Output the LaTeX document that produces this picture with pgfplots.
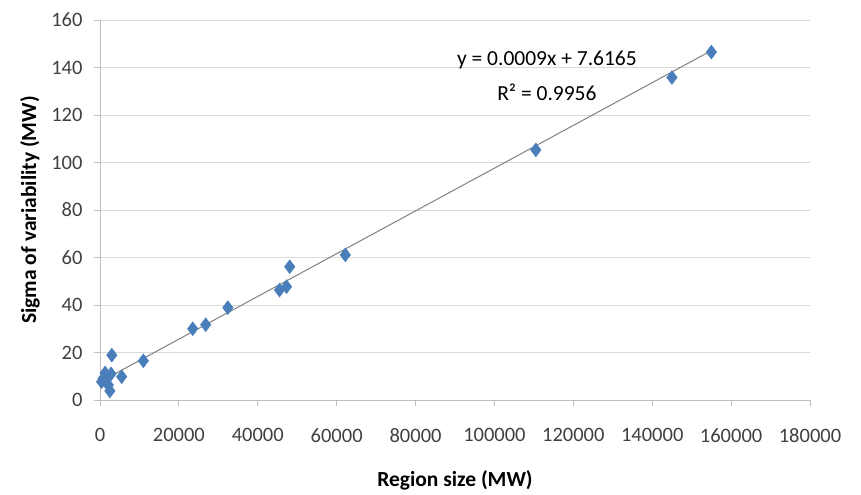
\documentclass[border=0pt]{standalone}
\usepackage{fontspec}
\setmainfont{Carlito}
\usepackage{pgfplots}
\pgfplotsset{compat=1.18}
\definecolor{mk}{HTML}{4A7EBB}
\definecolor{gridc}{HTML}{D9D9D9}
\definecolor{axc}{HTML}{BFBFBF}
\definecolor{txt}{HTML}{404040}
\newcommand{\ff}{\fontsize{20.5bp}{24bp}\selectfont}
\newcommand{\fl}{\fontsize{21.5bp}{25bp}\selectfont}
\begin{document}
\begin{tikzpicture}
\useasboundingbox (-100bp,-95bp) rectangle (761bp,400bp);
\begin{axis}[
  at={(0,0)}, anchor=south west,
  scale only axis, width=710bp, height=380bp,
  xmin=0, xmax=180000, ymin=0, ymax=160,
  xtick={0,20000,...,180000}, ytick={0,20,...,160},
  scaled x ticks=false,
  xticklabel style={/pgf/number format/.cd, fixed, 1000 sep={}},
  /pgf/number format/assume math mode=true,
  axis lines*=left,
  axis line style={axc, line width=0.8bp},
  tick align=outside, major tick length=6bp,
  tick style={axc, line width=0.8bp},
  ymajorgrids, grid style={gridc, line width=0.8bp},
  tick label style={font=\ff, text=txt},
  xticklabel shift=19bp, yticklabel shift=8bp,
  every axis x label/.style={at={(axis description cs:0.5,-0.2105)}, anchor=center, font=\fl\bfseries, text=black},
  every axis y label/.style={at={(axis description cs:-0.0986,0.5)}, rotate=90, anchor=center, font=\fl\bfseries, text=black},
  xlabel={Region size (MW)},
  ylabel={Sigma of variability (MW)},
  clip=false,
]
\addplot[color=gray, line width=1bp] coordinates {(0,7.6165) (155000,147.1165)};
\addplot[only marks, mark=diamond*, mark size=7bp, color=mk, mark options={fill=mk, draw=mk}] coordinates {
(155000,146.5)
(145000,135.8)
(110500,105.3)
(62200,61.1)
(48100,56.1)
(47300,47.7)
(45500,46.3)
(32400,38.9)
(26800,31.7)
(23500,30.0)
(11000,16.5)
(3000,18.9)
(5500,9.8)
(1300,11.4)
(2800,11.0)
(800,9.1)
(2100,6.3)
(2500,3.8)
(400,7.7)
};
\node[font=\fl, text=black] at (axis cs:113300,143.2) {y = 0.0009x + 7.6165};
\node[font=\fl, text=black] at (axis cs:113300,129.7) {R² = 0.9956};
\end{axis}
\end{tikzpicture}
\end{document}
